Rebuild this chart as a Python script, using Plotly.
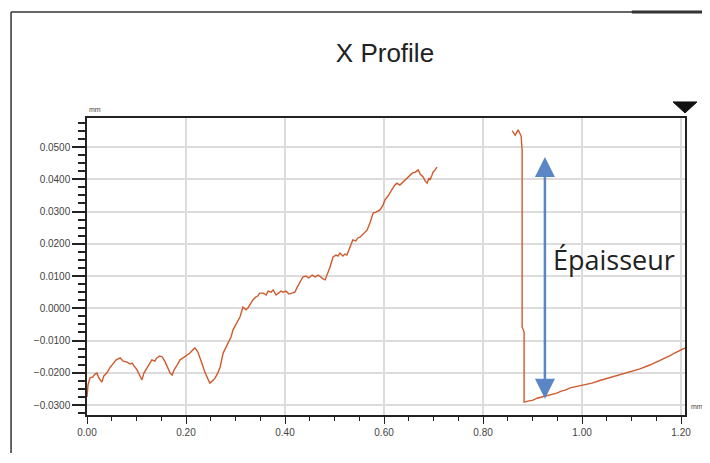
import plotly.graph_objects as go

# Segment 1: profile before the gap (mm)
x1 = [0.000, 0.002, 0.006, 0.012, 0.016, 0.020, 0.024, 0.030, 0.034, 0.040, 0.046, 0.053, 0.059, 0.067,
      0.073, 0.081, 0.087, 0.091, 0.097, 0.101, 0.107, 0.111, 0.115, 0.121, 0.127, 0.131, 0.137, 0.141,
      0.147, 0.152, 0.158, 0.162, 0.168, 0.172, 0.176, 0.182, 0.188, 0.194, 0.200, 0.208, 0.214, 0.218,
      0.224, 0.228, 0.234, 0.238, 0.244, 0.248, 0.253, 0.259, 0.265, 0.269, 0.275, 0.279, 0.285, 0.291,
      0.295, 0.303, 0.309, 0.315, 0.321, 0.325, 0.331, 0.335, 0.341, 0.345, 0.349, 0.356, 0.362, 0.366,
      0.372, 0.376, 0.382, 0.388, 0.392, 0.396, 0.402, 0.408, 0.414, 0.420, 0.424, 0.430, 0.436, 0.442,
      0.448, 0.455, 0.461, 0.467, 0.471, 0.477, 0.481, 0.487, 0.491, 0.497, 0.503, 0.507, 0.511, 0.517,
      0.521, 0.525, 0.531, 0.537, 0.543, 0.547, 0.552, 0.558, 0.562, 0.566, 0.572, 0.578, 0.584, 0.588,
      0.592, 0.598, 0.602, 0.608, 0.612, 0.618, 0.622, 0.626, 0.632, 0.636, 0.642, 0.646, 0.653, 0.657,
      0.663, 0.669, 0.673, 0.679, 0.683, 0.687, 0.691, 0.693, 0.697, 0.699, 0.703, 0.707]
y1 = [-0.0275, -0.0238, -0.0216, -0.0213, -0.0204, -0.0201, -0.0216, -0.0229, -0.0210, -0.0201, -0.0185,
      -0.0170, -0.0160, -0.0154, -0.0164, -0.0167, -0.0173, -0.0170, -0.0182, -0.0191, -0.0210, -0.0222,
      -0.0201, -0.0185, -0.0170, -0.0160, -0.0164, -0.0154, -0.0148, -0.0151, -0.0167, -0.0182, -0.0201,
      -0.0207, -0.0191, -0.0176, -0.0160, -0.0154, -0.0148, -0.0139, -0.0129, -0.0123, -0.0136, -0.0151,
      -0.0179, -0.0198, -0.0216, -0.0232, -0.0226, -0.0216, -0.0198, -0.0182, -0.0139, -0.0126, -0.0108,
      -0.0089, -0.0067, -0.0043, -0.0027, 0.0004, -0.0005, 0.0001, 0.0016, 0.0026, 0.0035, 0.0038, 0.0047,
      0.0047, 0.0041, 0.0053, 0.0050, 0.0057, 0.0041, 0.0050, 0.0053, 0.0050, 0.0053, 0.0044, 0.0047,
      0.0050, 0.0063, 0.0081, 0.0097, 0.0100, 0.0094, 0.0103, 0.0097, 0.0103, 0.0097, 0.0091, 0.0088,
      0.0112, 0.0128, 0.0159, 0.0165, 0.0162, 0.0171, 0.0162, 0.0168, 0.0165, 0.0190, 0.0212, 0.0209,
      0.0218, 0.0221, 0.0230, 0.0236, 0.0243, 0.0267, 0.0295, 0.0298, 0.0302, 0.0305, 0.0320, 0.0336,
      0.0348, 0.0360, 0.0373, 0.0382, 0.0388, 0.0382, 0.0388, 0.0398, 0.0404, 0.0413, 0.0419, 0.0422,
      0.0429, 0.0416, 0.0407, 0.0395, 0.0388, 0.0404, 0.0398, 0.0413, 0.0422, 0.0429, 0.0438]

# Segment 2: after the gap (edge, drop and ramp)
x2 = [0.859, 0.865, 0.871, 0.877, 0.879, 0.879, 0.879, 0.883, 0.883, 0.883, 0.891, 0.901, 0.909, 0.917,
      0.921, 0.933, 0.941, 0.949, 0.958, 0.966, 0.976, 0.986, 1.002, 1.020, 1.036, 1.057, 1.077, 1.097,
      1.117, 1.137, 1.158, 1.178, 1.188, 1.208]
y2 = [0.0550, 0.0537, 0.0553, 0.0534, 0.0490, 0.0181, -0.0058, -0.0074, -0.0192, -0.0291, -0.0288,
      -0.0285, -0.0279, -0.0276, -0.0275, -0.0269, -0.0266, -0.0263, -0.0257, -0.0254, -0.0247, -0.0244,
      -0.0238, -0.0232, -0.0224, -0.0215, -0.0207, -0.0198, -0.0188, -0.0176, -0.0162, -0.0147, -0.0138,
      -0.0123]

x_ticks = [0.0, 0.2, 0.4, 0.6, 0.8, 1.0, 1.2]
y_ticks = [-0.03, -0.02, -0.01, 0.0, 0.01, 0.02, 0.03, 0.04, 0.05]
x_range = [0.0, 1.208]
y_range = [-0.0331, 0.059]

arrow_x = 0.925
arrow_top = 0.0469
arrow_bottom = -0.0285
label_text = "Épaisseur"
title_text = "X Profile"

line_color = "#cf5a2e"

fig = go.Figure()
fig.add_trace(go.Scatter(x=x1, y=y1, mode="lines", line=dict(color=line_color, width=1.4),
                         showlegend=False, hoverinfo="skip"))
fig.add_trace(go.Scatter(x=x2, y=y2, mode="lines", line=dict(color=line_color, width=1.4),
                         showlegend=False, hoverinfo="skip"))

axis_font = dict(family="Liberation Sans, Arial, sans-serif", size=10, color="#444444")

fig.update_xaxes(range=x_range, tickvals=x_ticks, tickformat=".2f", showline=True, mirror=True,
                 linecolor="#222222", linewidth=1.5, ticks="outside", ticklen=7, tickwidth=1.2,
                 tickcolor="#222222", showgrid=True, gridcolor="#dcdcdc", gridwidth=1.5,
                 zeroline=False, tickfont=axis_font,
                 minor=dict(dtick=0.05, ticks="outside", ticklen=4, tickcolor="#222222", showgrid=False))
fig.update_yaxes(range=y_range, tickvals=y_ticks, tickformat=".4f", showline=True, mirror=True,
                 linecolor="#222222", linewidth=1.5, ticks="outside", ticklen=13, tickwidth=1.5,
                 tickcolor="#222222", showgrid=True, gridcolor="#dcdcdc", gridwidth=1.5,
                 zeroline=False, tickfont=axis_font,
                 minor=dict(dtick=0.0025, tick0=0, ticks="outside", ticklen=7, tickcolor="#222222",
                            showgrid=False))

annotations = [
    dict(x=arrow_x, y=arrow_top, ax=arrow_x, ay=arrow_bottom, xref="x", yref="y", axref="x", ayref="y",
         text="", showarrow=True, arrowside="end+start", arrowhead=2, arrowsize=1.6, arrowwidth=2.5,
         arrowcolor="#5b86c6"),
    dict(x=0.938, y=0.0150, xref="x", yref="y", text=label_text, showarrow=False, xanchor="left",
         yanchor="middle", font=dict(family="Open Sans, Lato, sans-serif", size=27, color="#222222")),
    dict(x=0.0, y=1.027, xref="paper", yref="paper", text="mm", showarrow=False, xanchor="left",
         yanchor="middle", font=dict(family="Liberation Sans, sans-serif", size=7, color="#444444")),
    dict(x=1.007, y=0.030, xref="paper", yref="paper", text="mm", showarrow=False, xanchor="left",
         yanchor="middle", font=dict(family="Liberation Sans, sans-serif", size=7, color="#444444")),
]

shapes = [
    # outer frame (left and top edges)
    dict(type="line", xref="paper", yref="paper", x0=-0.127, x1=-0.127, y0=1.357, y1=-0.2,
         line=dict(color="#333333", width=1.5)),
    dict(type="line", xref="paper", yref="paper", x0=-0.127, x1=1.05, y0=1.357, y1=1.357,
         line=dict(color="#333333", width=1.5)),
    dict(type="line", xref="paper", yref="paper", x0=0.911, x1=1.05, y0=1.357, y1=1.357,
         line=dict(color="#333333", width=3)),
    # cursor marker
    dict(type="path", xref="paper", yref="paper", path="M 0.980 1.054 L 1.020 1.054 L 1.000 1.017 Z",
         fillcolor="#111111", line=dict(color="#111111", width=1)),
]

# page body keeps an 8px margin, so the figure is sized to fit inside the window
fig.update_layout(
    width=702, height=445,
    margin=dict(l=79, r=25, t=110, b=38),
    paper_bgcolor="white", plot_bgcolor="white",
    title=dict(text=title_text, x=0.537, xanchor="center", y=0.899, yanchor="middle",
               font=dict(family="Liberation Sans, Arial, sans-serif", size=26, color="#222222")),
    annotations=annotations, shapes=shapes,
)

fig.write_html("out.html")
